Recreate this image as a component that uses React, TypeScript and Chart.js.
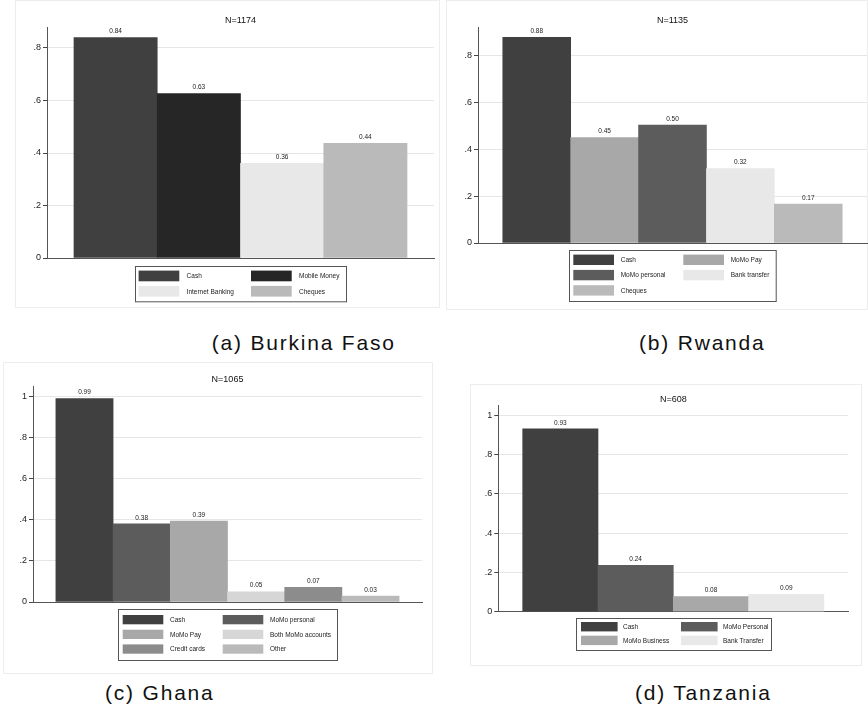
import React, { useEffect, useRef } from "react";
import { Chart, registerables } from "chart.js";

Chart.register(...registerables);
Chart.defaults.font.family = "'Liberation Sans', Arial, Helvetica, sans-serif";

// ---------- (a) Burkina Faso ----------
const bfTitle = "N=1174";
const bfCategories = ["Cash", "Mobile Money", "Internet Banking", "Cheques"];
const bfValues = [0.84, 0.626, 0.361, 0.437];
const bfColors = ["#404040", "#262626", "#e8e8e8", "#bababa"];
const bfTickValues = [0, 0.2, 0.4, 0.6, 0.8];
const bfTickLabels = ["0", ".2", ".4", ".6", ".8"];

// ---------- (b) Rwanda ----------
const rwTitle = "N=1135";
const rwCategories = ["Cash", "MoMo Pay", "MoMo personal", "Bank transfer", "Cheques"];
const rwValues = [0.876, 0.449, 0.502, 0.317, 0.166];
const rwColors = ["#404040", "#a8a8a8", "#5c5c5c", "#e8e8e8", "#bababa"];
const rwTickValues = [0, 0.2, 0.4, 0.6, 0.8];
const rwTickLabels = ["0", ".2", ".4", ".6", ".8"];

// ---------- (c) Ghana ----------
const ghTitle = "N=1065";
const ghCategories = ["Cash", "MoMo personal", "MoMo Pay", "Both MoMo accounts", "Credit cards", "Other"];
const ghValues = [0.989, 0.38, 0.393, 0.05, 0.071, 0.029];
const ghColors = ["#404040", "#5c5c5c", "#a8a8a8", "#d6d6d6", "#8c8c8c", "#bababa"];
const ghTickValues = [0, 0.2, 0.4, 0.6, 0.8, 1];
const ghTickLabels = ["0", ".2", ".4", ".6", ".8", "1"];

// ---------- (d) Tanzania ----------
const tzTitle = "N=608";
const tzCategories = ["Cash", "MoMo Personal", "MoMo Business", "Bank Transfer"];
const tzValues = [0.932, 0.236, 0.077, 0.088];
const tzColors = ["#404040", "#5c5c5c", "#a8a8a8", "#e8e8e8"];
const tzTickValues = [0, 0.2, 0.4, 0.6, 0.8, 1];
const tzTickLabels = ["0", ".2", ".4", ".6", ".8", "1"];

const captions = ["(a) Burkina Faso", "(b) Rwanda", "(c) Ghana", "(d) Tanzania"];

type LegendGeom = {
  width: number; height: number; top: number; padX: number; padY: number;
  sw: number; sh: number; pitch: number; textOffset: number; colOffset: number;
};

type PanelCfg = {
  title: string; categories: string[]; values: number[]; colors: string[];
  tickValues: number[]; tickLabels: string[]; yMax: number;
  canvas: { left: number; top: number; width: number; height: number };
  pad: { left: number; right: number; top: number; bottom: number };
  yWidth: number; gap: number; legend: LegendGeom;
};

const FONT = "'Liberation Sans', Arial, Helvetica, sans-serif";

const decorPlugin = {
  id: "stataDecor",
  afterDatasetsDraw(chart: any, _args: any, opts: any) {
    const ctx = chart.ctx;
    const ca = chart.chartArea;
    ctx.save();
    // value labels
    const meta = chart.getDatasetMeta(0);
    const ds = chart.data.datasets[0];
    ctx.font = `6.5px ${FONT}`;
    ctx.fillStyle = "#222";
    ctx.textAlign = "center";
    ctx.textBaseline = "alphabetic";
    meta.data.forEach((el: any, i: number) => {
      const v = ds.data[i].y as number;
      ctx.fillText(v.toFixed(2), el.x, el.y - 4.3);
    });
    // title
    ctx.font = `9px ${FONT}`;
    ctx.fillStyle = "#111";
    ctx.fillText(opts.title, (ca.left + ca.right) / 2, ca.top - 4);
    // legend
    const lg: LegendGeom = opts.legend;
    const labels: string[] = opts.labels;
    const colors: string[] = opts.colors;
    const bl = Math.round((ca.left + ca.right) / 2 - lg.width / 2);
    const bt = Math.round(ca.bottom + lg.top);
    ctx.fillStyle = "#fff";
    ctx.fillRect(bl, bt, lg.width, lg.height);
    ctx.strokeStyle = "#555";
    ctx.lineWidth = 1;
    ctx.strokeRect(bl + 0.5, bt + 0.5, lg.width, lg.height);
    ctx.font = `6.5px ${FONT}`;
    ctx.textAlign = "left";
    ctx.textBaseline = "middle";
    labels.forEach((lab, i) => {
      const col = i % 2;
      const row = Math.floor(i / 2);
      const x = bl + lg.padX + col * lg.colOffset;
      const y = bt + lg.padY + row * lg.pitch;
      ctx.fillStyle = colors[i];
      ctx.fillRect(x, y, lg.sw, lg.sh);
      ctx.fillStyle = "#222";
      ctx.fillText(lab, x + lg.textOffset, y + lg.sh / 2 + 0.5);
    });
    ctx.restore();
  },
};

function Panel({ cfg }: { cfg: PanelCfg }) {
  const ref = useRef<HTMLCanvasElement | null>(null);
  useEffect(() => {
    if (!ref.current) return;
    const n = cfg.values.length;
    const chart = new Chart(ref.current, {
      type: "bar",
      data: {
        datasets: [
          {
            data: cfg.values.map((v, i) => ({ x: i, y: v })),
            backgroundColor: cfg.colors,
            borderWidth: 0,
            categoryPercentage: 1,
            barPercentage: 1,
          } as any,
        ],
      },
      options: {
        animation: false,
        responsive: false,
        events: [],
        layout: { padding: cfg.pad },
        scales: {
          x: {
            type: "linear",
            offset: false,
            min: -0.5 - cfg.gap,
            max: n - 0.5 + cfg.gap,
            afterBuildTicks: (scale: any) => {
              scale.ticks = cfg.values.map((_v, i) => ({ value: i }));
            },
            ticks: { display: false, padding: 0 },
            grid: { display: false, drawTicks: false, offset: false },
            border: { display: true, color: "#555", width: 1 },
          },
          y: {
            type: "linear",
            min: 0,
            max: cfg.yMax,
            afterBuildTicks: (scale: any) => {
              scale.ticks = cfg.tickValues.map((v) => ({ value: v }));
            },
            afterFit: (scale: any) => {
              scale.width = cfg.yWidth;
            },
            ticks: {
              padding: 2,
              color: "#222",
              font: { size: 9 },
              callback: (_v: any, idx: number) => cfg.tickLabels[idx],
            },
            grid: {
              color: "#e6e6e6",
              lineWidth: 1,
              tickColor: "#444",
              tickLength: 4,
              drawTicks: true,
            },
            border: { display: true, color: "#555", width: 1 },
          },
        },
        plugins: {
          legend: { display: false },
          tooltip: { enabled: false },
          title: { display: false },
          stataDecor: {
            title: cfg.title,
            legend: cfg.legend,
            labels: cfg.categories,
            colors: cfg.colors,
          },
        } as any,
      },
      plugins: [decorPlugin],
    });
    return () => chart.destroy();
  }, [cfg]);
  const c = cfg.canvas;
  return (
    <canvas
      ref={ref}
      width={c.width}
      height={c.height}
      style={{ position: "absolute", left: c.left, top: c.top, width: c.width, height: c.height }}
    />
  );
}

const panels: PanelCfg[] = [
  {
    title: bfTitle, categories: bfCategories, values: bfValues, colors: bfColors,
    tickValues: bfTickValues, tickLabels: bfTickLabels, yMax: 0.88,
    canvas: { left: 15, top: 0, width: 425, height: 306 },
    pad: { left: 0, right: 6, top: 27, bottom: 48 },
    yWidth: 32, gap: 0.324,
    legend: { width: 211, height: 35.3, top: 7.7, padX: 3.6, padY: 4.6, sw: 40.7, sh: 10.7, pitch: 15.3, textOffset: 48, colOffset: 112.4 },
  },
  {
    title: rwTitle, categories: rwCategories, values: rwValues, colors: rwColors,
    tickValues: rwTickValues, tickLabels: rwTickLabels, yMax: 0.92,
    canvas: { left: 446, top: 0, width: 422, height: 306 },
    pad: { left: 0, right: 1, top: 27, bottom: 63 },
    yWidth: 32, gap: 0.365,
    legend: { width: 206.7, height: 51, top: 7.4, padX: 4.3, padY: 4.6, sw: 40.7, sh: 10.4, pitch: 15.3, textOffset: 47.4, colOffset: 110 },
  },
  {
    title: ghTitle, categories: ghCategories, values: ghValues, colors: ghColors,
    tickValues: ghTickValues, tickLabels: ghTickLabels, yMax: 1.05,
    canvas: { left: 3, top: 362, width: 430, height: 312 },
    pad: { left: 0, right: 11, top: 24, bottom: 72 },
    yWidth: 30, gap: 0.4,
    legend: { width: 219, height: 51, top: 7, padX: 4.7, padY: 6, sw: 40.6, sh: 9.3, pitch: 14.7, textOffset: 47.3, colOffset: 100 },
  },
  {
    title: tzTitle, categories: tzCategories, values: tzValues, colors: tzColors,
    tickValues: tzTickValues, tickLabels: tzTickLabels, yMax: 1.05,
    canvas: { left: 470, top: 384, width: 392, height: 282 },
    pad: { left: 0, right: 13.7, top: 21.7, bottom: 54.3 },
    yWidth: 28.3, gap: 0.324,
    legend: { width: 195, height: 32, top: 6.6, padX: 5, padY: 4, sw: 36.6, sh: 9.4, pitch: 13.7, textOffset: 42, colOffset: 100 },
  },
];

const frames = [
  { left: 15, top: 0, width: 425, height: 308 },
  { left: 446, top: 0, width: 422, height: 310 },
  { left: 3, top: 362, width: 430, height: 312 },
  { left: 470, top: 384, width: 392, height: 282 },
];

const captionPos = [
  { left: 211.7, top: 332 },
  { left: 639, top: 332 },
  { left: 105, top: 682 },
  { left: 635, top: 682 },
];

export default function App() {
  return (
    <div style={{ position: "absolute", left: 0, top: 0, width: 868, height: 710, background: "#fff", overflow: "hidden" }}>
      {frames.map((f, i) => (
        <div
          key={"f" + i}
          style={{
            position: "absolute", left: f.left, top: f.top, width: f.width, height: f.height,
            border: "1px solid #ededed", boxSizing: "border-box",
          }}
        />
      ))}
      {panels.map((p, i) => (
        <Panel key={"p" + i} cfg={p} />
      ))}
      {captions.map((t, i) => (
        <div
          key={"c" + i}
          style={{
            position: "absolute", left: captionPos[i].left, top: captionPos[i].top,
            fontFamily: FONT, fontSize: 21, lineHeight: "21px", letterSpacing: "1.8px",
            color: "#111", whiteSpace: "nowrap",
          }}
        >
          {t}
        </div>
      ))}
    </div>
  );
}
